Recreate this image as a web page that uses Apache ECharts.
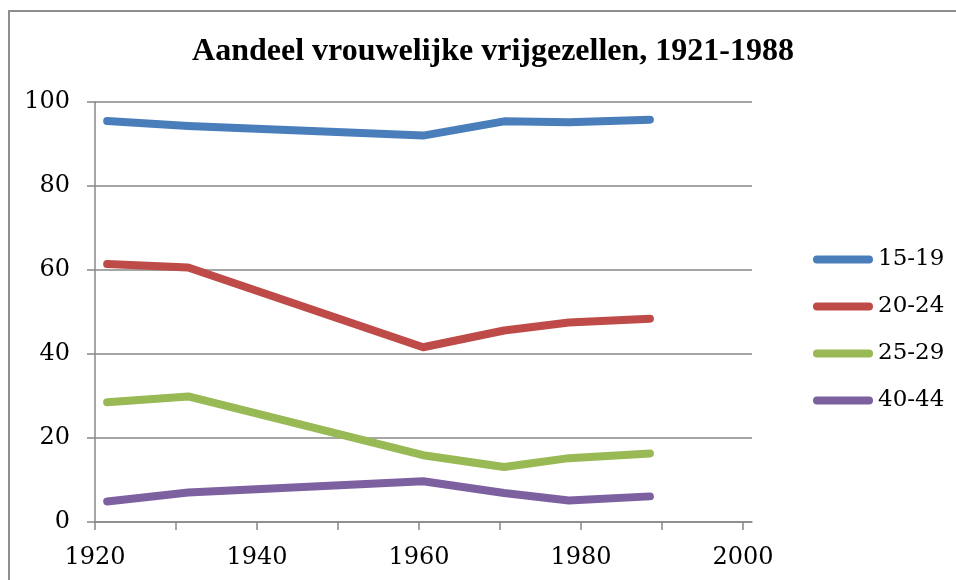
<!DOCTYPE html>
<html>
<head>
<meta charset="utf-8">
<script src="https://cdn.jsdelivr.net/npm/echarts@6/dist/echarts.min.js"></script>
<style>
  html, body { margin: 0; padding: 0; background: #fff; }
  #chart { width: 956px; height: 580px; }
</style>
</head>
<body>
<div id="chart"></div>
<script>
// Census years (plotted at mid-year)
const years = [1921, 1931, 1960, 1970, 1978, 1988];
const seriesNames = ['15-19', '20-24', '25-29', '40-44'];
// Share of unmarried women per age group (%)
const share15_19 = [95.5, 94.3, 92.0, 95.4, 95.2, 95.8];
const share20_24 = [61.4, 60.6, 41.6, 45.6, 47.5, 48.4];
const share25_29 = [28.5, 29.9, 15.9, 13.1, 15.2, 16.3];
const share40_44 = [4.9, 7.0, 9.7, 6.9, 5.1, 6.1];
const xTicks = [1920, 1930, 1940, 1950, 1960, 1970, 1980, 1990, 2000];
const xLabels = [1920, 1940, 1960, 1980, 2000];
const colors = ['#4A7EBB', '#BE4B48', '#98B954', '#7D60A0'];

const allValues = [share15_19, share20_24, share25_29, share40_44];
const serif = '"DejaVu Serif", "Liberation Serif", serif';

const chart = echarts.init(document.getElementById('chart'), null, { renderer: 'canvas' });

const series = seriesNames.map((name, i) => ({
  name: name,
  type: 'line',
  data: years.map((y, k) => [y + 0.5, allValues[i][k]]),
  symbol: 'none',
  smooth: false,
  color: colors[i],
  lineStyle: { width: 8, color: colors[i], cap: 'round', join: 'round' },
  z: 10 - i
}));

chart.setOption({
  animation: false,
  backgroundColor: '#fff',
  title: {
    text: 'Aandeel vrouwelijke vrijgezellen, 1921-1988',
    left: 488,
    top: 31,
    textAlign: 'center',
    textStyle: {
      fontFamily: '"Liberation Serif", "Times New Roman", serif',
      fontWeight: 'bold',
      fontSize: 32,
      color: '#000'
    }
  },
  graphic: [{
    type: 'rect',
    shape: { x: 9, y: 11, width: 1200, height: 1200 },
    style: { fill: 'none', stroke: '#8e8e8e', lineWidth: 2 },
    silent: true,
    z: -1
  }],
  legend: {
    orient: 'vertical',
    left: 808,
    top: 243,
    itemWidth: 60,
    itemHeight: 8,
    itemGap: 24,
    icon: 'path://M4,0 H56 A4,4 0 0 1 56,8 H4 A4,4 0 0 1 4,0 Z',
    textStyle: { fontFamily: serif, fontSize: 23, color: '#000' },
    data: seriesNames
  },
  grid: { left: 95, right: 204, top: 102, bottom: 58, containLabel: false },
  xAxis: {
    type: 'value',
    min: 1920,
    max: 2001.1,
    splitLine: { show: false },
    axisLine: { show: true, lineStyle: { color: '#888', width: 1.5 } },
    axisTick: { show: true, length: 8, customValues: xTicks, lineStyle: { color: '#888', width: 1.5 } },
    axisLabel: {
      customValues: xLabels,
      margin: 24,
      fontFamily: serif,
      fontSize: 24,
      color: '#000',
      formatter: v => String(v)
    }
  },
  yAxis: {
    type: 'value',
    min: 0,
    max: 100,
    interval: 20,
    splitLine: { show: true, lineStyle: { color: '#888', width: 1.5 } },
    axisLine: { show: true, lineStyle: { color: '#888', width: 1.5 } },
    axisTick: { show: true, length: 8, lineStyle: { color: '#888', width: 1.5 } },
    axisLabel: { margin: 25, fontFamily: serif, fontSize: 24, color: '#000' }
  },
  series: series
});
</script>
</body>
</html>
